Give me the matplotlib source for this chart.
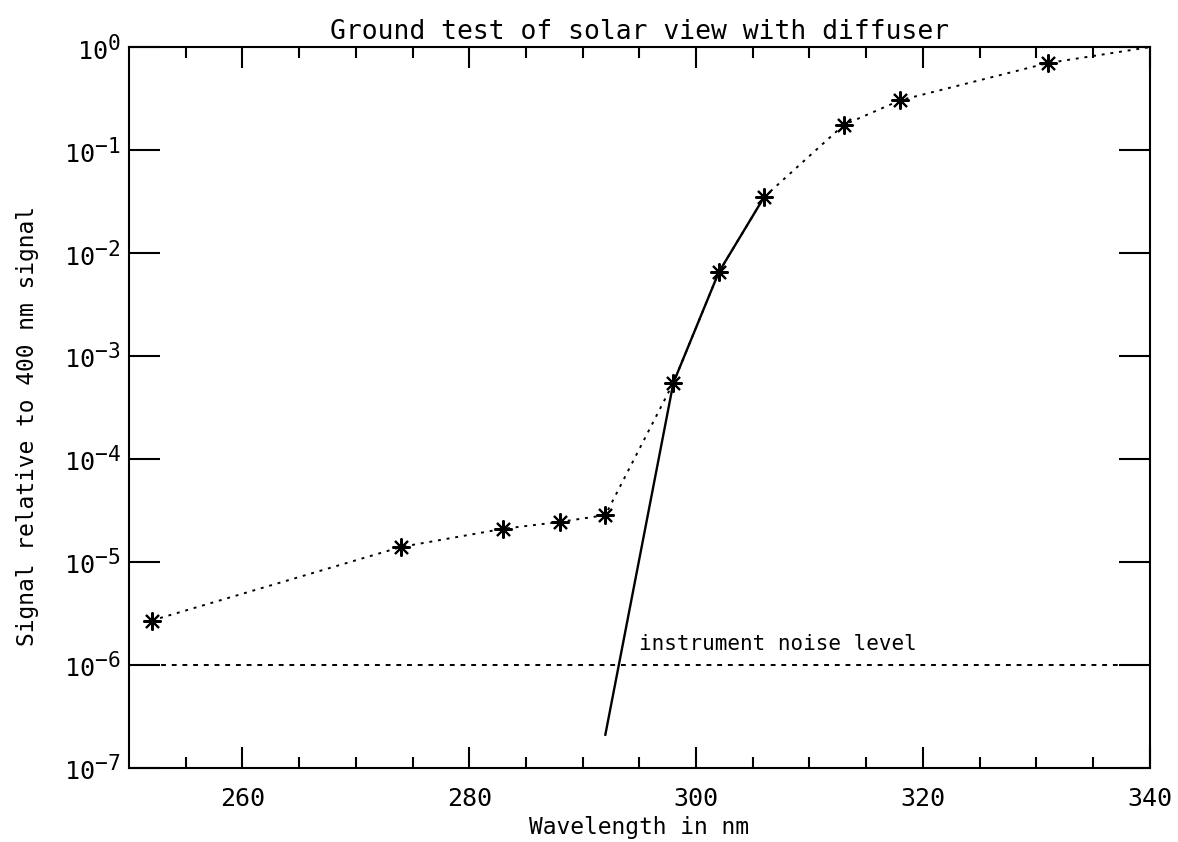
import matplotlib
matplotlib.use("Agg")
import matplotlib.pyplot as plt
import numpy as np
from matplotlib.ticker import FixedLocator, NullLocator
import matplotlib._mathtext as mtext

# IDL-style exponents are nearly full size
mtext.SHRINK_FACTOR = 0.85

# measured points (wavelength nm, signal relative to 400 nm)
wavelength = [252, 274, 283, 288, 292, 298, 302, 306, 313, 318, 331, 340]
signal = [2.7e-6, 1.4e-5, 2.1e-5, 2.45e-5, 2.85e-5, 5.5e-4, 6.5e-3, 3.5e-2, 0.175, 0.305, 0.70, 1.0]
marked = [252, 274, 283, 288, 292, 298, 302, 306, 313, 318, 331]

# steep solid fit line
fit_wl = [292, 298, 302, 306]
fit_sig = [2.1e-7, 5.5e-4, 6.5e-3, 3.5e-2]

noise_level = 1e-6
x_ticks = [260, 280, 300, 320, 340]
y_ticks = [1e-7, 1e-6, 1e-5, 1e-4, 1e-3, 1e-2, 1e-1, 1e0]

plt.rcParams["font.family"] = ["DejaVu Sans Mono", "DejaVu Sans"]
plt.rcParams["mathtext.fontset"] = "custom"
plt.rcParams["mathtext.rm"] = "DejaVu Sans Mono"
plt.rcParams["mathtext.it"] = "DejaVu Sans Mono"
plt.rcParams["mathtext.bf"] = "DejaVu Sans Mono"

fig = plt.figure(figsize=(11.78, 8.42), dpi=100)
ax = fig.add_axes([0.1095, 0.088, 0.8665, 0.856])

ax.plot(wavelength, signal, color="k", lw=1.4, linestyle=(0, (1.5, 3)))
mk = [signal[wavelength.index(w)] for w in marked]
ax.plot(marked, mk, linestyle="none", marker=(8, 2, 0), markersize=13,
        markeredgewidth=1.5, color="k")
ax.plot(fit_wl, fit_sig, color="k", lw=1.7)
ax.axhline(noise_level, color="k", lw=1.4, linestyle=(0, (2.5, 3)))
ax.text(295, 1.6e-6, "instrument noise level", fontsize=15, va="center")

ax.set_xlim(250, 340)
ax.set_ylim(1e-7, 1.0)
ax.set_yscale("log")
ax.xaxis.set_major_locator(FixedLocator(x_ticks))
ax.xaxis.set_minor_locator(FixedLocator(np.arange(255, 340, 5)))
ax.yaxis.set_major_locator(FixedLocator(y_ticks))
ax.yaxis.set_minor_locator(NullLocator())

ax.tick_params(axis="x", which="major", direction="in", length=15, width=1.5,
               top=True, labelsize=18, pad=14)
ax.tick_params(axis="x", which="minor", direction="in", length=8, width=1.5, top=True)
ax.tick_params(axis="y", which="major", direction="in", length=22, width=1.5,
               right=True, labelsize=18, pad=6)
for s in ax.spines.values():
    s.set_linewidth(1.5)

ax.set_title("Ground test of solar view with diffuser", fontsize=19, pad=6)
ax.set_xlabel("Wavelength in nm", fontsize=16.5, labelpad=3)
ax.set_ylabel("Signal relative to 400 nm signal", fontsize=16.5)
ax.yaxis.set_label_coords(-0.088, 0.474)

fig.savefig("out.png", dpi=100)
